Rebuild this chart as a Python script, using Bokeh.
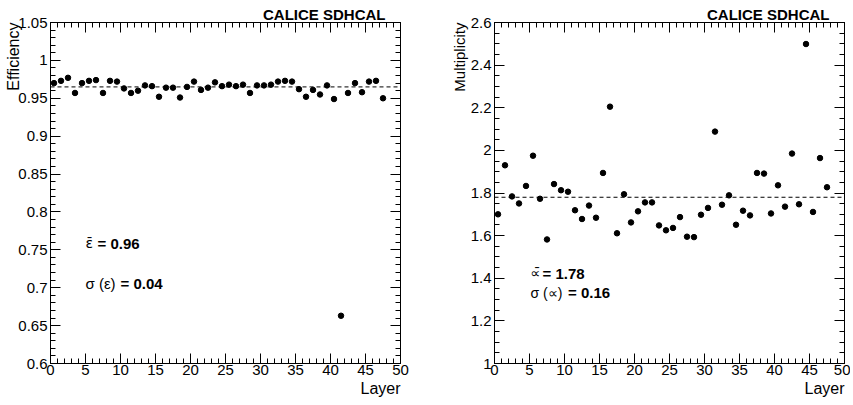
from bokeh.plotting import figure
from bokeh.models import (Range1d, LinearAxis, SingleIntervalTicker,
                          CustomJSTickFormatter, Span, Label, Title)
from bokeh.layouts import row
from bokeh.embed import file_html
from bokeh.resources import INLINE

# ---------------- data ----------------
layers = [0.5, 1.5, 2.5, 3.5, 4.5, 5.5, 6.5, 7.5, 8.5, 9.5,
          10.5, 11.5, 12.5, 13.5, 14.5, 15.5, 16.5, 17.5, 18.5, 19.5,
          20.5, 21.5, 22.5, 23.5, 24.5, 25.5, 26.5, 27.5, 28.5, 29.5,
          30.5, 31.5, 32.5, 33.5, 34.5, 35.5, 36.5, 37.5, 38.5, 39.5,
          40.5, 41.5, 42.5, 43.5, 44.5, 45.5, 46.5, 47.5]

efficiency = [0.970, 0.973, 0.977, 0.957, 0.970, 0.973, 0.974, 0.957, 0.973, 0.972,
              0.963, 0.957, 0.960, 0.967, 0.966, 0.952, 0.964, 0.964, 0.951, 0.965,
              0.972, 0.961, 0.964, 0.971, 0.966, 0.968, 0.966, 0.968, 0.957, 0.967,
              0.967, 0.968, 0.972, 0.973, 0.972, 0.962, 0.952, 0.961, 0.955, 0.967,
              0.949, 0.663, 0.957, 0.970, 0.958, 0.972, 0.973, 0.950]

multiplicity = [1.700, 1.930, 1.784, 1.751, 1.833, 1.975, 1.773, 1.582, 1.842, 1.813,
                1.806, 1.719, 1.678, 1.741, 1.684, 1.894, 2.205, 1.611, 1.794, 1.662,
                1.714, 1.756, 1.756, 1.648, 1.625, 1.636, 1.687, 1.595, 1.593, 1.698,
                1.730, 2.088, 1.745, 1.789, 1.651, 1.717, 1.695, 1.894, 1.891, 1.704,
                1.836, 1.736, 1.985, 1.747, 2.499, 1.711, 1.964, 1.827]

eff_mean_line = 0.965
mult_mean_line = 1.78
eff_texts = [("ε\u0304", "= 0.96"), ("σ (ε)", "= 0.04")]
mult_texts = [("∝\u0304", "= 1.78"), ("σ (∝)", "= 0.16")]

FONT = "Liberation Sans"
fmt = CustomJSTickFormatter(code="return parseFloat(tick.toFixed(3)).toString();")
blank = CustomJSTickFormatter(code="return '';")


def style_axis(ax, labels=True, standoff=2):
    ax.axis_line_color = "black"
    ax.axis_line_width = 1
    ax.major_tick_in = 10
    ax.major_tick_out = 0
    ax.minor_tick_in = 5
    ax.minor_tick_out = 0
    ax.major_tick_line_color = "black"
    ax.minor_tick_line_color = "black"
    ax.major_label_text_font = FONT
    ax.major_label_text_color = "black"
    ax.major_label_text_font_size = "15px"
    if labels:
        ax.major_label_standoff = standoff
    else:
        ax.formatter = blank
        ax.major_label_standoff = 0


def side_title(text, size, offset=0, standoff=0):
    return Title(text=text, align="right", offset=offset, standoff=standoff,
                 text_font=FONT, text_font_style="normal", text_font_size=size,
                 text_color="black")


def make_fig(width, bl, br, y0, y1, yint, yminor, ys, mean, ylabel, ylabel_size,
             ylabel_standoff, texts, text_pos, sym_sizes):
    p = figure(width=width, height=400, output_backend="svg", toolbar_location=None,
               x_range=Range1d(0, 50), y_range=Range1d(y0, y1 + 1e-9),
               min_border_left=bl, min_border_right=br, min_border_top=22,
               min_border_bottom=37, x_axis_location=None, y_axis_location=None)
    p.grid.visible = False
    p.outline_line_color = "black"
    p.background_fill_color = "white"
    p.border_fill_color = "white"

    p.title.text = "CALICE SDHCAL"
    p.title.align = "right"
    p.title.offset = 15
    p.title.standoff = 0
    p.title.text_font = FONT
    p.title.text_font_style = "bold"
    p.title.text_font_size = "15px"
    p.title.text_color = "black"

    bottom = LinearAxis(ticker=SingleIntervalTicker(interval=5, num_minor_ticks=5))
    style_axis(bottom, True, standoff=1)
    p.add_layout(bottom, "below")

    top = LinearAxis(ticker=SingleIntervalTicker(interval=5, num_minor_ticks=5))
    style_axis(top, False)
    p.add_layout(top, "above")

    left = LinearAxis(ticker=SingleIntervalTicker(interval=yint, num_minor_ticks=yminor),
                      formatter=fmt)
    style_axis(left, True, standoff=3)
    p.add_layout(left, "left")

    right = LinearAxis(ticker=SingleIntervalTicker(interval=yint, num_minor_ticks=yminor))
    style_axis(right, False)
    p.add_layout(right, "right")

    p.add_layout(side_title("Layer", "16px", offset=0, standoff=0), "below")
    p.add_layout(side_title(ylabel, ylabel_size, offset=0, standoff=ylabel_standoff), "left")

    p.add_layout(Span(location=mean, dimension="width", line_color="black",
                      line_width=1, line_dash="4 3"))
    p.scatter(layers, ys, size=5.5, color="black")

    for i, ((sym, val), (xs, xv, yy)) in enumerate(zip(texts, text_pos)):
        p.add_layout(Label(x=xs, y=yy, text=sym,
                           text_font="DejaVu Sans" if i == 0 else FONT,
                           text_font_size=sym_sizes[i],
                           text_baseline="middle", text_color="black"))
        p.add_layout(Label(x=xv, y=yy, text=val, text_font=FONT, text_font_size="15px",
                           text_font_style="bold", text_baseline="middle",
                           text_color="black"))
    return p


p1 = make_fig(447, 50, 47, 0.6, 1.05, 0.05, 5, efficiency, eff_mean_line, "Efficiency",
              "16px", -13, eff_texts,
              [(5.0, 6.71, 0.7585), (5.0, 10.0, 0.7058)], ["14px", "15px"])
p2 = make_fig(403, 47, 6, 1.0, 2.6, 0.2, 4, multiplicity, mult_mean_line, "Multiplicity",
              "15px", 0, mult_texts,
              [(5.14, 6.86, 1.424), (5.14, 10.5, 1.331)], ["14px", "14px"])

layout = row(p1, p2)
open("out.html", "w").write(file_html(layout, INLINE))
